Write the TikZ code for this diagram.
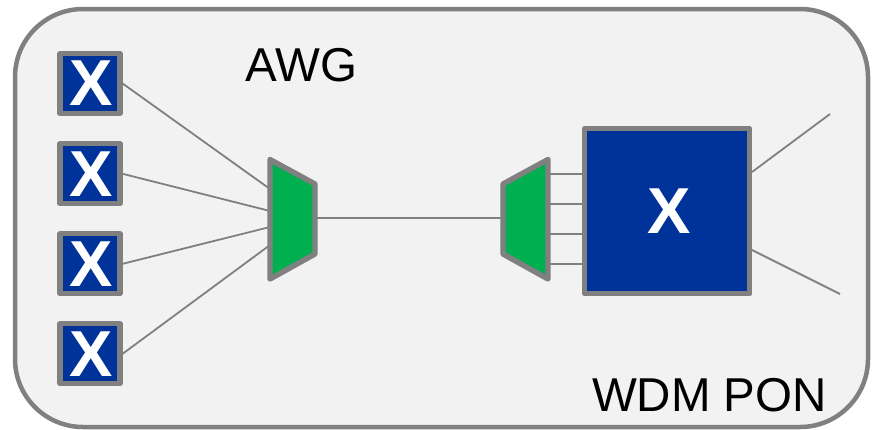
\documentclass[tikz,border=0pt]{standalone}
\usepackage{fontspec}
\setmainfont{Liberation Sans}
\definecolor{xblue}{HTML}{003399}
\definecolor{muxgreen}{HTML}{00B050}
\definecolor{linegray}{HTML}{808080}
\definecolor{panel}{HTML}{F2F2F2}
\begin{document}
\begin{tikzpicture}[x=1pt,y=-1pt,
  smallx/.style={draw=linegray,line width=5.2pt,line join=round,fill=xblue,minimum size=60pt,inner sep=0pt,text=white,font=\fontsize{65}{65}\selectfont\bfseries},
  bigx/.style={smallx,minimum size=165pt},
  wire/.style={draw=linegray,line width=1.8pt},
  mux/.style={draw=linegray,line width=5.4pt,fill=muxgreen,line join=round},
  caption/.style={font=\fontsize{47.5}{47.5}\selectfont,inner sep=0pt}]
\useasboundingbox (0,0) rectangle (877,429);
\clip (0,0) rectangle (877,429);
\draw[draw=linegray,line width=4.5pt,fill=panel,rounded corners=68pt] (15,9) rectangle (868,427);
\node[smallx] (x1) at (90,83.5) {\hspace*{2.6pt}\raisebox{-2.3pt}{X}};
\node[smallx] (x2) at (90,173.8) {\hspace*{2.6pt}\raisebox{-2.3pt}{X}};
\node[smallx] (x3) at (90,263.8) {\hspace*{2.6pt}\raisebox{-2.3pt}{X}};
\node[smallx] (x4) at (90,353.8) {\hspace*{2.6pt}\raisebox{-2.3pt}{X}};
\node[bigx] (big) at (667.3,211.3) {\hspace*{3.4pt}\raisebox{-2pt}{X}};
\coordinate (m1) at (270,189);
\coordinate (m2) at (270,211);
\coordinate (m3) at (270,227);
\coordinate (m4) at (270,245);
\coordinate (r) at (316,218);
\coordinate (l) at (502,218);
\coordinate (e1) at (830,114);
\coordinate (e2) at (840,294);
\draw[wire] (x1.east) -- (m1);
\draw[wire] (x2.east) -- (m2);
\draw[wire] (x3.east) -- (m3);
\draw[wire] (x4.east) -- (m4);
\draw[wire] (r) -- (l);
\draw[wire] (548,174) -- (585,174);
\draw[wire] (548,204) -- (585,204);
\draw[wire] (548,234) -- (585,234);
\draw[wire] (548,264) -- (585,264);
\draw[wire] (752,172) -- (e1);
\draw[wire] (752,250) -- (e2);
\draw[mux] (270,159.5) -- (315,184) -- (315,254) -- (270,279) -- cycle;
\draw[mux] (548,159.5) -- (503,184) -- (503,254) -- (548,279) -- cycle;
\node[caption] (awg) at (301.5,65) {AWG};
\node[caption] (pon) at (709.5,395) {WDM PON};
\end{tikzpicture}
\end{document}
